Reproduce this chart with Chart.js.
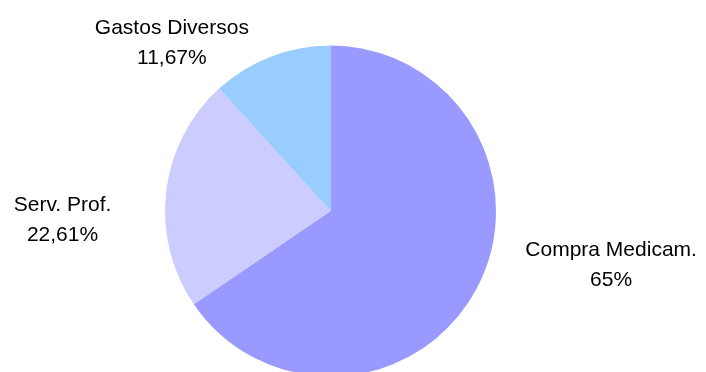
<!DOCTYPE html>
<html>
<head>
<meta charset="utf-8">
<script src="https://cdn.jsdelivr.net/npm/chart.js@4"></script>
<style>
  html, body { margin: 0; padding: 0; background: #fff; overflow: hidden; }
  #wrap { width: 706px; height: 400px; }
</style>
</head>
<body>
<div id="wrap"><canvas id="gastos" width="706" height="400"></canvas></div>
<script>
// Distribución de gastos
const categorias = ['Compra Medicam.', 'Serv. Prof.', 'Gastos Diversos'];
const porcentajes = [65, 22.61, 11.67];
const colores = ['#9999FF', '#CCCCFF', '#99CCFF'];

// Etiquetas fuera del pastel: giro respecto al ángulo medio (grados) y distancia en radios
const posEtiquetas = [
  { giro: -16.9, dist: 1.727 },
  { giro: -8.6, dist: 1.62 },
  { giro: -22.2, dist: 1.396 }
];

function formatoPct(v) {
  return String(v).replace('.', ',') + '%';
}

const etiquetasPlugin = {
  id: 'etiquetas',
  afterDatasetsDraw(chart) {
    const ctx = chart.ctx;
    const meta = chart.getDatasetMeta(0);
    ctx.save();
    ctx.font = '21px "Liberation Sans", Arial, sans-serif';
    ctx.fillStyle = '#000';
    ctx.textAlign = 'center';
    ctx.textBaseline = 'middle';
    meta.data.forEach((arc, i) => {
      const p = arc.getProps(['x', 'y', 'startAngle', 'endAngle', 'outerRadius'], true);
      const pos = posEtiquetas[i];
      const ang = (p.startAngle + p.endAngle) / 2 + pos.giro * Math.PI / 180;
      const r = p.outerRadius * pos.dist;
      const cx = p.x + Math.cos(ang) * r;
      const cy = p.y + Math.sin(ang) * r;
      ctx.fillText(categorias[i], cx, cy - 15);
      ctx.fillText(formatoPct(porcentajes[i]), cx, cy + 15);
    });
    ctx.restore();
  }
};

new Chart(document.getElementById('gastos'), {
  type: 'pie',
  data: {
    labels: categorias,
    datasets: [{
      data: porcentajes,
      backgroundColor: colores,
      borderWidth: 0
    }]
  },
  options: {
    responsive: false,
    devicePixelRatio: 1,
    animation: false,
    layout: {
      padding: { left: 165, right: 210, top: 45, bottom: 23 }
    },
    plugins: {
      legend: { display: false },
      tooltip: { enabled: false }
    }
  },
  plugins: [etiquetasPlugin]
});
</script>
</body>
</html>
